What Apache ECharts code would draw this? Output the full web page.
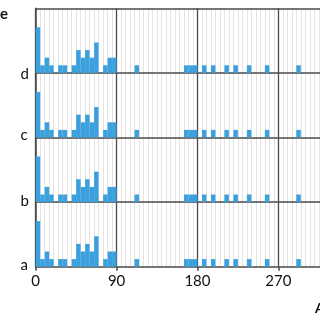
<!DOCTYPE html>
<html><head><meta charset="utf-8">
<script src="https://cdn.jsdelivr.net/npm/echarts@6/dist/echarts.min.js"></script>
<style>html,body{margin:0;padding:0;background:#fff}#c{width:320px;height:320px}</style>
</head><body><div id="c"></div>
<script>
// bin start angles (degrees), 5-degree bins; only non-empty bins and the gaps in the first quadrant
const binDeg = [0,5,10,15,20,25,30,35,40,45,50,55,60,65,70,75,80,85,110,165,170,175,185,195,210,220,235,255,290];
const countsD = [6,1,2,1,0,1,1,0,1,3,2,3,2,4,0,1,2,2,1,1,1,1,1,1,1,1,1,1,1];
const countsC = [6,1,2,1,0,1,1,0,1,3,2,3,2,4,0,1,2,2,1,1,1,1,1,1,1,1,1,1,1];
const countsB = [6,1,2,1,0,1,1,0,1,3,2,3,2,4,0,1,2,2,1,1,1,1,1,1,1,1,1,1,1];
const countsA = [6,1,2,1,0,1,1,0,1,3,2,3,2,4,0,1,2,2,1,1,1,1,1,1,1,1,1,1,1];
const panelLabels = ['d','c','b','a'];
const tickLabels = ['0','90','180','270','360'];
const BIN = 5;

const panels = [countsD, countsC, countsB, countsA];
const DARK = '#4a4a4a';
const BLUE = '#3ba0de';
const FONT = 'Lato';
const top0 = 8.3, ph = 64.6, left = 35.7, gw = 323.5;

const grids = [], xAxes = [], yAxes = [], series = [];
panels.forEach((counts, i) => {
  const bottom = i === panels.length - 1;
  grids.push({left: left, top: top0 + ph * i, width: gw, height: ph, outerBoundsMode: 'none', containLabel: false});
  xAxes.push({
    type: 'value', gridIndex: i, min: 0, max: 360, interval: 90,
    axisLine: {show: true, lineStyle: {color: DARK, width: 1.5}},
    axisTick: {show: bottom, length: 4, lineStyle: {color: DARK, width: 1.5}},
    axisLabel: {show: bottom, margin: 7, fontFamily: FONT, fontSize: 15, color: '#111',
      formatter: v => tickLabels[Math.round(v / 90)]},
    splitLine: {show: true, showMinLine: true, lineStyle: {color: DARK, width: 1.3}},
    minorTick: {show: false, splitNumber: 18},
    minorSplitLine: {show: true, lineStyle: {color: '#e4e4e4', width: 1}}
  });
  yAxes.push({
    type: 'value', gridIndex: i, min: 0, max: 8.5,
    axisLine: {show: true, lineStyle: {color: DARK, width: 1.5}},
    axisTick: {show: false}, axisLabel: {show: false}, splitLine: {show: false}
  });
  series.push({
    type: 'custom', xAxisIndex: i, yAxisIndex: i,
    data: binDeg.map((d, k) => [d, counts[k]]),
    renderItem: function (params, api) {
      const x0 = api.value(0), c = api.value(1);
      const p0 = api.coord([x0, 0]);
      const p1 = api.coord([x0 + BIN, c]);
      return {type: 'rect', shape: {x: p0[0], y: p1[1], width: p1[0] - p0[0], height: p0[1] - p1[1]},
        style: {fill: BLUE}};
    },
    z: 3
  });
});
// top border line of the first panel
xAxes.push({
  type: 'value', gridIndex: 0, min: 0, max: 360, position: 'top',
  axisLine: {show: true, lineStyle: {color: DARK, width: 1.5}},
  axisTick: {show: false}, axisLabel: {show: false}, splitLine: {show: false}
});

const labelY = [76, 136.7, 202.5, 266.7];
const graphic = panelLabels.map((t, i) => ({
  type: 'text', left: 24.5 - 4, top: labelY[i] - 9,
  style: {text: t, fontFamily: FONT, fontSize: 15, fill: '#111'}
}));
graphic.push({type: 'text', left: 0, top: 7, style: {text: 'e', fontFamily: FONT, fontSize: 15, fontWeight: 'bold', fill: '#111'}});
graphic.push({type: 'text', left: 315, top: 301, style: {text: 'Angle', fontFamily: FONT, fontSize: 14, fontWeight: 'bold', fill: '#111'}});

const chart = echarts.init(document.getElementById('c'), null, {renderer: 'canvas'});
chart.setOption({
  animation: false,
  backgroundColor: '#fff',
  grid: grids, xAxis: xAxes, yAxis: yAxes, series: series, graphic: graphic
});
</script>
</body></html>
